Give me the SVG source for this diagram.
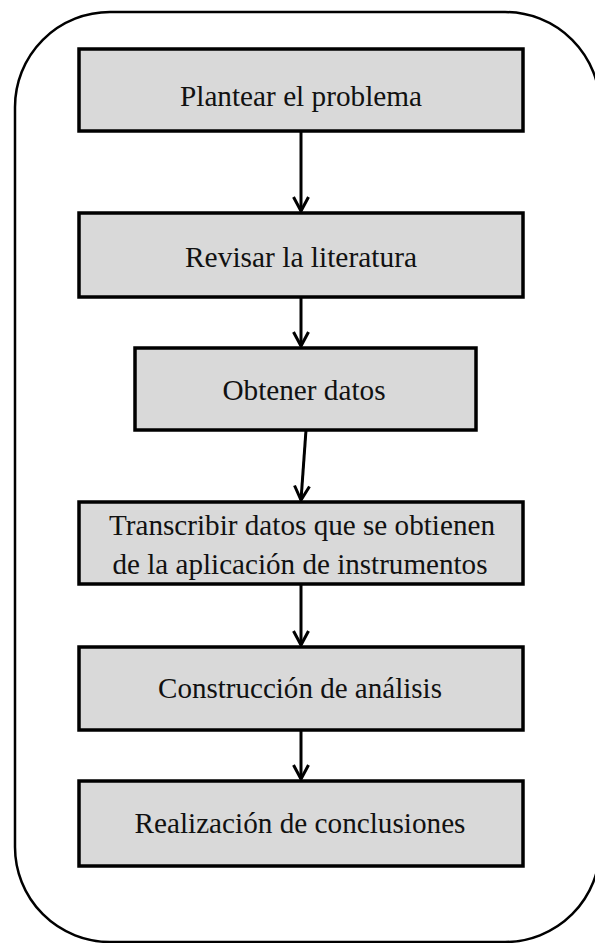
<svg xmlns="http://www.w3.org/2000/svg" width="595" height="943" viewBox="0 0 595 943">
<defs>
<style>
.box{fill:#d9d9d9;stroke:#000;stroke-width:3.5}
.lbl{font-family:"Liberation Serif","Times New Roman",serif;font-size:29.5px;fill:#111;text-anchor:middle}
.con{stroke:#000;stroke-width:3;fill:none}
</style>
<marker id="arr" markerUnits="userSpaceOnUse" markerWidth="20" markerHeight="22" viewBox="-16 -11 20 22" refX="0" refY="0" orient="auto">
<path d="M-14,-7.5 L0,0 L-14,7.5" fill="none" stroke="#000" stroke-width="3"/>
</marker>
</defs>
<rect x="0" y="0" width="595" height="943" fill="#fff"/>
<rect id="frame" x="15" y="12" width="585" height="930" rx="95" ry="95" fill="none" stroke="#000" stroke-width="2.5"/>
<g id="connectors">
<line class="con" x1="301" y1="131" x2="301" y2="211" marker-end="url(#arr)"/>
<line class="con" x1="301" y1="297" x2="301" y2="346" marker-end="url(#arr)"/>
<line class="con" x1="306" y1="430" x2="301" y2="500" marker-end="url(#arr)"/>
<line class="con" x1="301" y1="584" x2="301" y2="645" marker-end="url(#arr)"/>
<line class="con" x1="301" y1="730" x2="301" y2="779" marker-end="url(#arr)"/>
</g>
<g id="n1"><rect class="box" x="79" y="49" width="444" height="82"/><text class="lbl" x="301" y="106" textLength="242" lengthAdjust="spacingAndGlyphs">Plantear el problema</text></g>
<g id="n2"><rect class="box" x="79" y="213" width="444" height="84"/><text class="lbl" x="301" y="267" textLength="232" lengthAdjust="spacingAndGlyphs">Revisar la literatura</text></g>
<g id="n3"><rect class="box" x="135" y="348" width="341" height="82"/><text class="lbl" x="304" y="400" textLength="163" lengthAdjust="spacingAndGlyphs">Obtener datos</text></g>
<g id="n4"><rect class="box" x="79" y="502" width="444" height="82"/><text class="lbl" x="302" y="535" textLength="386" lengthAdjust="spacingAndGlyphs">Transcribir datos que se obtienen</text><text class="lbl" x="300" y="574" textLength="375" lengthAdjust="spacingAndGlyphs">de la aplicación de instrumentos</text></g>
<g id="n5"><rect class="box" x="79" y="647" width="444" height="83"/><text class="lbl" x="300" y="698" textLength="284" lengthAdjust="spacingAndGlyphs">Construcción de análisis</text></g>
<g id="n6"><rect class="box" x="79" y="781" width="444" height="85"/><text class="lbl" x="300" y="833" textLength="331" lengthAdjust="spacingAndGlyphs">Realización de conclusiones</text></g>
</svg>
